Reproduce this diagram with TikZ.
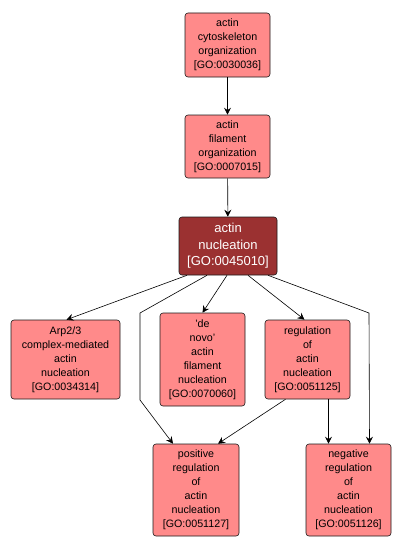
\documentclass[tikz,border=0pt]{standalone}
\usepackage{xcolor}
\usepackage{tikz}
\usetikzlibrary{arrows.meta,positioning,calc}
\usepackage{fontspec}
\setmainfont{Liberation Sans}
\definecolor{TermPink}{HTML}{FF8A8A}
\definecolor{TermDark}{HTML}{9B3131}
\definecolor{TermEdge}{HTML}{1A1A1A}

\begin{document}
\begin{tikzpicture}[x=1pt,y=-1pt,
		term/.style={draw=TermEdge,fill=TermPink,rounded corners=3pt,align=center,inner sep=1pt,
			font=\fontsize{10.7}{14}\selectfont,line width=0.6pt},
		focus/.style={term,fill=TermDark,text=white,font=\fontsize{13}{16.5}\selectfont},
		edge/.style={-{Stealth[length=7pt,width=7pt,inset=2.5pt]},line width=0.6pt,black}]
		\useasboundingbox (0,0) rectangle (402,551);
		\node[term,minimum width=85pt,minimum height=64pt] (cyto) at (227.5,45) {actin\\cytoskeleton\\organization\\{[}GO:0030036{]}};
		\node[term,minimum width=85pt,minimum height=63pt] (filorg) at (227.5,146.5) {actin\\filament\\organization\\{[}GO:0007015{]}};
		\node[focus,minimum width=98pt,minimum height=58pt] (nucl) at (228,246) {actin\\nucleation\\{[}GO:0045010{]}};
		\node[term,minimum width=109pt,minimum height=79pt] (arp) at (65.5,359.5) {Arp2/3\\complex-mediated\\actin\\nucleation\\{[}GO:0034314{]}};
		\node[term,minimum width=85pt,minimum height=93pt] (denovo) at (202.5,359.5) {'de\\novo'\\actin\\filament\\nucleation\\{[}GO:0070060{]}};
		\node[term,minimum width=85pt,minimum height=79pt] (reg) at (307.5,359.5) {regulation\\of\\actin\\nucleation\\{[}GO:0051125{]}};
		\node[term,minimum width=86pt,minimum height=92pt] (posreg) at (196,490) {positive\\regulation\\of\\actin\\nucleation\\{[}GO:0051127{]}};
		\node[term,minimum width=85pt,minimum height=92pt] (negreg) at (348.5,490) {negative\\regulation\\of\\actin\\nucleation\\{[}GO:0051126{]}};
		% bends of the two long edges
		\coordinate (posbendA) at (140,313);
		\coordinate (posbendB) at (140,400);
		\coordinate (negbendA) at (369,313);
		\draw[edge] (cyto) -- (filorg);
		\draw[edge] (filorg) -- (nucl);
		\draw[edge] ([xshift=-41pt]nucl.south) -- ([xshift=1pt]arp.north);
		\draw[edge] ([xshift=-1pt]nucl.south) -- ([xshift=0pt]denovo.north);
		\draw[edge] ([xshift=20pt]nucl.south) -- ([xshift=-3pt]reg.north);
		\draw[edge] ([xshift=-21pt]nucl.south) -- (posbendA) -- (posbendB) -- ([xshift=-23pt]posreg.north);
		\draw[edge] ([xshift=40pt]nucl.south) -- (negbendA) -- ([xshift=21pt]negreg.north);
		\draw[edge] ([xshift=-22pt]reg.south) -- ([xshift=22pt]posreg.north);
		\draw[edge] ([xshift=21pt]reg.south) -- ([xshift=-20pt]negreg.north);
	\end{tikzpicture}
\end{document}
